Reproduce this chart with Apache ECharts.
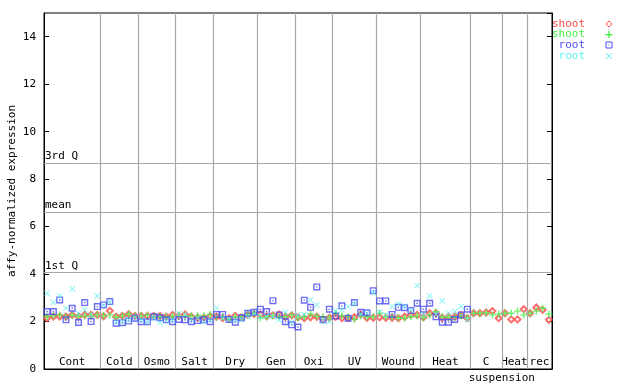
<!DOCTYPE html>
<html><head><meta charset="utf-8">
<script src="https://cdn.jsdelivr.net/npm/echarts@6/dist/echarts.min.js"></script>
<style>html,body{margin:0;padding:0;background:#fff}#c{width:640px;height:384px}</style>
</head><body><div id="c"></div>
<script>
const groupNames = ['Cont','Cold','Osmo','Salt','Dry','Gen','Oxi','UV','Wound','Heat','C','Heat','rec'];
const groupBounds = [0,9,15,21,27,34,40,46,53,60,68,73,77,81];
const subLabel = 'suspension';
const yTitle = 'affy-normalized expression';
const quartileNames = ['3rd Q','mean','1st Q'];
const quartileValues = [8.68, 6.62, 4.06];
const yTicks = [0,2,4,6,8,10,12,14];
const legendNames = ['shoot','shoot','root','root'];
const colors = ['#ff4a4a','#4af04a','#4a4af0','#5af0f0'];

const shootRed = [2.14,2.21,2.21,2.21,2.28,2.21,2.28,2.28,2.28,
  2.22,2.45,2.2,2.24,2.31,2.24,
  2.24,2.24,2.24,2.24,2.2,2.28,
  2.24,2.3,2.2,2.16,2.16,2.22,
  2.2,2.14,2.14,2.24,2.18,2.28,2.32,
  2.3,2.22,2.26,2.3,2.2,2.26,
  2.18,2.14,2.18,2.2,2.1,2.16,
  2.2,2.14,2.14,2.18,2.3,2.16,2.16,
  2.18,2.16,2.16,2.14,2.2,2.28,2.28,
  2.18,2.35,2.35,2.16,2.2,2.2,2.28,2.14,
  2.35,2.35,2.38,2.44,2.14,
  2.35,2.09,2.09,2.52,
  2.35,2.59,2.49,2.07];
const shootGreen = [2.21,2.24,2.28,2.2,2.28,2.21,2.24,2.24,2.28,
  2.24,2.28,2.18,2.24,2.32,2.24,
  2.24,2.28,2.2,2.2,2.2,2.22,
  2.24,2.22,2.24,2.24,2.24,2.3,
  2.18,2.2,2.09,2.2,2.2,2.32,2.35,
  2.16,2.2,2.24,2.2,2.2,2.28,
  2.16,2.2,2.32,2.22,2.2,2.16,
  2.35,2.24,2.2,2.09,2.24,2.2,2.2,
  2.35,2.2,2.2,2.16,2.14,2.2,2.24,
  2.16,2.28,2.41,2.2,2.18,2.18,2.24,2.16,
  2.35,2.35,2.37,2.28,2.32,
  2.35,2.35,2.44,2.28,
  2.35,2.44,2.56,2.32];
const rootBlue = [2.42,2.42,2.91,2.07,2.56,1.96,2.8,2.0,2.63,
  2.7,2.84,1.93,1.95,2.02,2.14,
  1.99,1.99,2.2,2.16,2.07,1.99,
  2.09,2.07,1.99,2.04,2.07,1.99,
  2.3,2.3,2.09,1.97,2.16,2.35,2.39,
  2.52,2.42,2.88,2.28,1.99,1.86,
  1.77,2.9,2.6,3.46,2.08,2.52,
  2.23,2.66,2.14,2.8,2.39,2.37,3.3,
  2.87,2.87,2.3,2.6,2.58,2.46,2.77,
  2.52,2.77,2.2,1.97,1.97,2.09,2.28,2.52];
const rootCyan = [3.19,2.81,3.08,2.56,3.38,2.35,2.49,2.28,3.08,
  2.68,2.82,2.0,2.0,2.07,2.16,
  2.07,2.0,2.14,1.96,2.04,2.07,
  2.35,2.3,2.07,2.14,1.99,2.07,
  2.56,2.14,2.09,2.07,2.07,2.2,2.35,
  2.2,2.22,2.2,2.07,2.39,1.96,
  2.28,2.3,2.91,2.7,2.04,1.99,
  2.45,2.5,2.63,2.74,2.3,2.35,3.22,
  2.4,2.28,2.63,2.74,2.65,2.47,3.51,
  2.3,3.08,2.3,2.88,2.35,2.42,2.63,2.07];

const FONT = 'DejaVu Sans Mono';
const toPts = arr => arr.map((v,i) => [i + 0.5, v]);

const SYM_PLUS = 'path://M4,0H6V4H10V6H6V10H4V6H0V4H4Z';
const SYM_SQ = 'path://M0,0H10V10H0Z M2,2V8H8V2Z M4,4H6V6H4Z';
const SYM_X = 'path://M0,1L1,0L5,4L9,0L10,1L6,5L10,9L9,10L5,6L1,10L0,9L4,5Z';

const areaData = groupNames.map((n,k) => [
  {xAxis: groupBounds[k], name: n},
  {xAxis: groupBounds[k+1]}
]);
areaData.push([{xAxis: 68, name: subLabel, label: {offset: [0, 16]}}, {xAxis: 78}]);

const sepLines = groupBounds.slice(1, -1).map(b => ({xAxis: b, label: {show: false}}));
const qLines = quartileValues.map((v,k) => ({yAxis: v, label: {formatter: quartileNames[k]}}));

const chart = echarts.init(document.getElementById('c'), null, {renderer: 'canvas'});

function extraGraphic() {
  const els = [];
  els.push({type:'text', x:12, y:191, rotation: Math.PI/2,
    style:{text:yTitle, fill:'#000', font:'11px ' + FONT, align:'center', verticalAlign:'middle'}});
  const ys = [24, 34.5, 45, 56];
  const sx = 609;
  legendNames.forEach((n,k) => {
    els.push({type:'text', style:{text:n, x:585, y:ys[k], fill:colors[k], font:'11px ' + FONT, align:'right', verticalAlign:'middle'}});
  });
  els.push({type:'polygon', shape:{points:[[sx,ys[0]-3],[sx+3,ys[0]],[sx,ys[0]+3],[sx-3,ys[0]]]}, style:{fill:'none', stroke:colors[0], lineWidth:1}});
  els.push({type:'rect', shape:{x:sx-3.5, y:ys[1]-0.5, width:7, height:1.4}, style:{fill:colors[1]}});
  els.push({type:'rect', shape:{x:sx-0.7, y:ys[1]-3.5, width:1.4, height:7}, style:{fill:colors[1]}});
  els.push({type:'rect', shape:{x:sx-3, y:ys[2]-3, width:6, height:6}, style:{fill:'none', stroke:colors[2], lineWidth:1}});
  els.push({type:'rect', shape:{x:sx-0.5, y:ys[2]-0.5, width:1, height:1}, style:{fill:colors[2]}});
  els.push({type:'line', shape:{x1:sx-3, y1:ys[3]-3, x2:sx+3, y2:ys[3]+3}, style:{stroke:colors[3], lineWidth:1}});
  els.push({type:'line', shape:{x1:sx+3, y1:ys[3]-3, x2:sx-3, y2:ys[3]+3}, style:{stroke:colors[3], lineWidth:1}});
  return els;
}

chart.setOption({
  animation: false,
  backgroundColor: '#fff',
  textStyle: {fontFamily: FONT},
  grid: {left: 44, right: 88, top: 13, bottom: 15, containLabel: false, outerBoundsMode: 'none',
    show: true, borderColor: '#000', borderWidth: 1, backgroundColor: 'transparent'},
  xAxis: {type: 'value', min: 0, max: 81, axisLine: {show: true, lineStyle: {color: '#000'}}, axisTick: {show: false}, axisLabel: {show: false}, splitLine: {show: false}},
  yAxis: [
    {type: 'value', min: 0, max: 15, interval: 2, position: 'left',
     axisLine: {show: true, lineStyle: {color: '#000'}},
     axisTick: {show: true, inside: true, length: 5, lineStyle: {color: '#000'}},
     axisLabel: {show: true, margin: 8, color: '#000', fontFamily: FONT, fontSize: 11, showMaxLabel: false,
       formatter: v => yTicks.indexOf(v) >= 0 ? String(v) : ''},
     splitLine: {show: false}},
    {type: 'value', min: 0, max: 15, interval: 2, position: 'right',
     axisLine: {show: true, lineStyle: {color: '#000'}},
     axisTick: {show: true, inside: true, length: 5, lineStyle: {color: '#000'}},
     axisLabel: {show: false}, splitLine: {show: false}}
  ],
  graphic: extraGraphic(),
  series: [
    {type: 'scatter', name: 'shoot', data: toPts(shootRed), symbol: 'emptyDiamond', symbolSize: 6,
     itemStyle: {color: colors[0], borderColor: colors[0], borderWidth: 1}, z: 3,
     markLine: {silent: true, symbol: 'none', animation: false,
       lineStyle: {color: '#a8a8a8', width: 1.2, type: 'solid'},
       label: {show: true, position: 'insideStartTop', distance: [1, 1], color: '#000', fontFamily: FONT, fontSize: 11},
       data: qLines.concat(sepLines)},
     markArea: {silent: true, itemStyle: {color: 'rgba(0,0,0,0)'},
       label: {show: true, position: 'insideBottom', distance: 1, color: '#000', fontFamily: FONT, fontSize: 11},
       data: areaData}},
    {type: 'scatter', name: 'shoot', data: toPts(shootGreen), symbol: SYM_PLUS, symbolSize: 7,
     itemStyle: {color: colors[1]}, z: 4},
    {type: 'scatter', name: 'root', data: toPts(rootBlue), symbol: SYM_SQ, symbolSize: 7,
     itemStyle: {color: colors[2]}, z: 5},
    {type: 'scatter', name: 'root', data: toPts(rootCyan), symbol: SYM_X, symbolSize: 6,
     itemStyle: {color: colors[3]}, z: 6}
  ]
});
</script>
</body></html>
